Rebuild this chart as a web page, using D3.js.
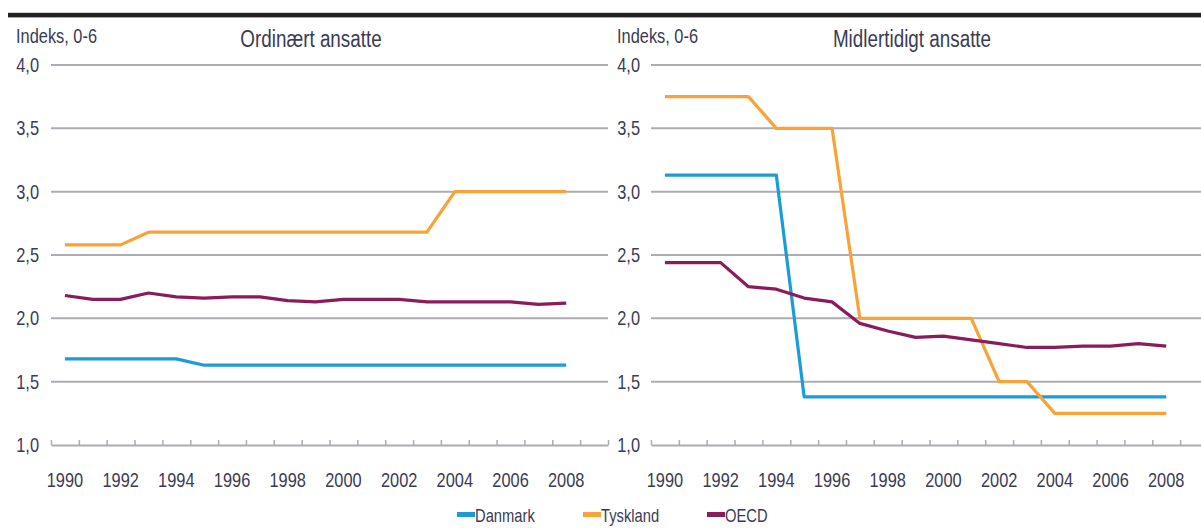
<!DOCTYPE html>
<html><head><meta charset="utf-8">
<script src="https://cdn.jsdelivr.net/npm/d3@7"></script>
<style>
html,body{margin:0;padding:0;background:#fff;}
svg{display:block;}
text{font-family:"Liberation Sans",Arial,sans-serif;fill:#3b3b55;}
</style></head>
<body>
<svg id="chart" width="1201" height="528"></svg>
<script>
// ---- data ----
const years = [1990,1991,1992,1993,1994,1995,1996,1997,1998,1999,2000,2001,2002,2003,2004,2005,2006,2007,2008];
const xTickLabels = [1990,1992,1994,1996,1998,2000,2002,2004,2006,2008];
const yTicks = [1.0,1.5,2.0,2.5,3.0,3.5,4.0];
const seriesNames = ["Danmark","Tyskland","OECD"];
const seriesColors = ["#1b9bd8","#f8a238","#8b1c5c"];
const panelTitles = ["Ordinært ansatte","Midlertidigt ansatte"];
const yAxisLabel = "Indeks, 0-6";

// Ordinært ansatte
const ordDanmark  = [1.68,1.68,1.68,1.68,1.68,1.63,1.63,1.63,1.63,1.63,1.63,1.63,1.63,1.63,1.63,1.63,1.63,1.63,1.63];
const ordTyskland = [2.58,2.58,2.58,2.68,2.68,2.68,2.68,2.68,2.68,2.68,2.68,2.68,2.68,2.68,3.00,3.00,3.00,3.00,3.00];
const ordOECD     = [2.18,2.15,2.15,2.20,2.17,2.16,2.17,2.17,2.14,2.13,2.15,2.15,2.15,2.13,2.13,2.13,2.13,2.11,2.12];
// Midlertidigt ansatte
const midDanmark  = [3.13,3.13,3.13,3.13,3.13,1.38,1.38,1.38,1.38,1.38,1.38,1.38,1.38,1.38,1.38,1.38,1.38,1.38,1.38];
const midTyskland = [3.75,3.75,3.75,3.75,3.50,3.50,3.50,2.00,2.00,2.00,2.00,2.00,1.50,1.50,1.25,1.25,1.25,1.25,1.25];
const midOECD     = [2.44,2.44,2.44,2.25,2.23,2.16,2.13,1.96,1.90,1.85,1.86,1.83,1.80,1.77,1.77,1.78,1.78,1.80,1.78];

const panels = [
  {title: panelTitles[0], series:[ordDanmark, ordTyskland, ordOECD], x0:51, x1:608, labelX:39, titleX:311, idxX:16},
  {title: panelTitles[1], series:[midDanmark, midTyskland, midOECD], x0:651, x1:1208, labelX:640, titleX:912, idxX:617}
];

const NARROW = 0.82;
function addText(sel, x, yy, str, size, anchor) {
  return sel.append("text")
    .attr("transform", `translate(${x},${yy}) scale(${NARROW},1)`)
    .attr("text-anchor", anchor || "start")
    .attr("font-size", size)
    .text(str);
}

const svg = d3.select("#chart");
const y = d3.scaleLinear().domain([1.0, 4.0]).range([445, 65]);

// top bar
svg.append("rect").attr("x",8).attr("y",12.8).attr("width",1201-8).attr("height",4.6).attr("fill","#222");

panels.forEach(p => {
  const x = d3.scaleLinear().domain([1989.5, 2009.5]).range([p.x0, p.x1]);
  const g = svg.append("g");

  // gridlines (excluding baseline)
  g.selectAll("line.grid").data(yTicks.filter(v => v > 1.0)).join("line")
    .attr("x1", p.x0).attr("x2", p.x1)
    .attr("y1", d => y(d)).attr("y2", d => y(d))
    .attr("stroke", "#acacb2").attr("stroke-width", 2);

  // y labels
  yTicks.forEach(v => addText(g, p.labelX, y(v) + 7, d3.format(".1f")(v).replace(".", ","), 20, "end"));

  // x axis with ticks at year boundaries
  const boundaries = d3.range(1989.5, 2010, 1);
  const axis = d3.axisBottom(x).tickValues(boundaries).tickSizeInner(-5).tickSizeOuter(0).tickFormat("");
  const ax = g.append("g").attr("transform", `translate(0,${y(1.0)})`).call(axis);
  ax.select(".domain").attr("stroke","#acacb2").attr("stroke-width",2);
  ax.selectAll(".tick line").attr("stroke","#acacb2").attr("stroke-width",1.5);

  // year labels
  xTickLabels.forEach(v => addText(g, x(v), 487, v, 20, "middle"));

  // titles
  addText(g, p.idxX, 43, yAxisLabel, 20, "start");
  addText(g, p.titleX, 47, p.title, 23, "middle");

  // lines
  const line = d3.line().x((d,i) => x(years[i])).y(d => y(d));
  p.series.forEach((s, k) => {
    g.append("path").datum(s).attr("d", line)
      .attr("fill","none").attr("stroke", seriesColors[k]).attr("stroke-width", 3.2)
      .attr("stroke-linejoin","round");
  });
});

// legend
const legX = [457, 583, 707];
const lg = svg.append("g");
seriesNames.forEach((n, i) => {
  lg.append("rect").attr("x", legX[i]).attr("y", 512).attr("width", 18).attr("height", 5).attr("fill", seriesColors[i]);
  addText(lg, legX[i] + 18, 522, n, 18, "start");
});
</script>
</body></html>
